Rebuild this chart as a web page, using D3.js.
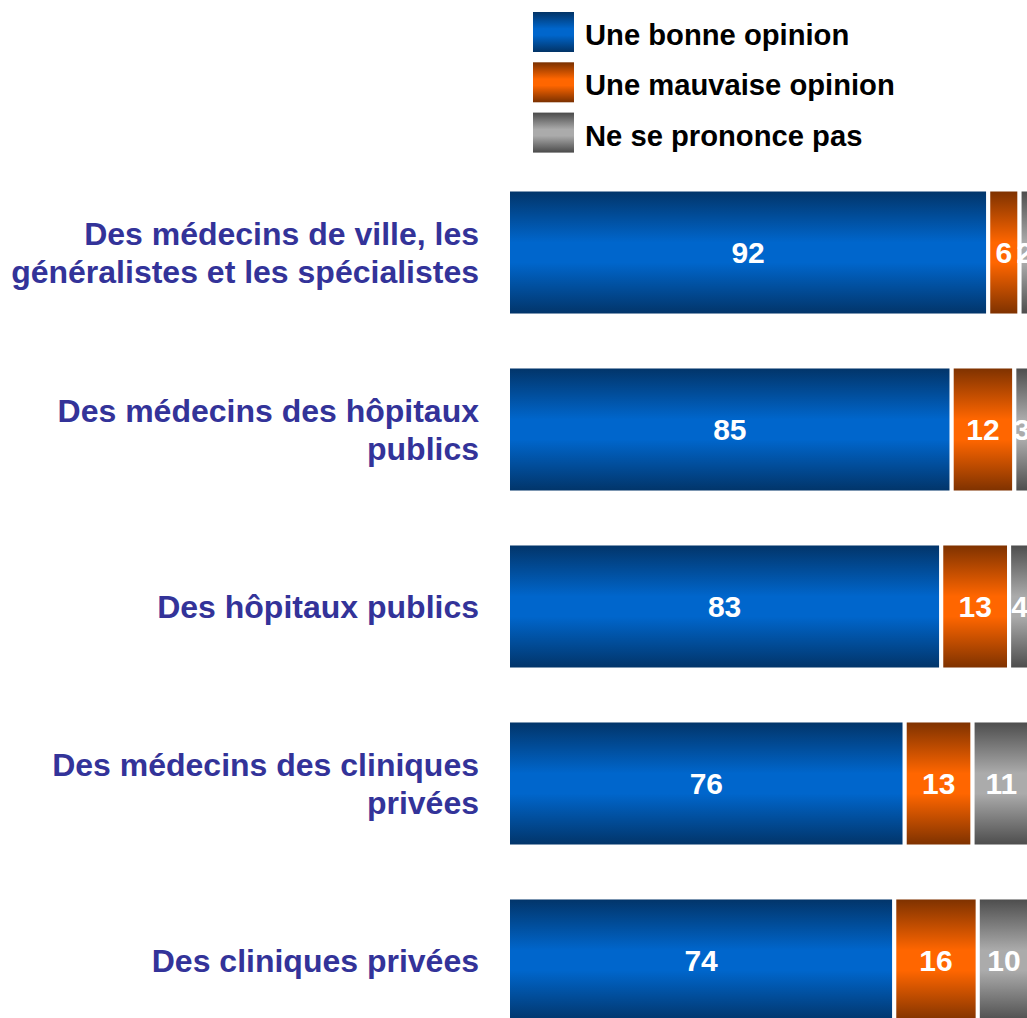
<!DOCTYPE html>
<html>
<head>
<meta charset="utf-8">
<script src="https://cdn.jsdelivr.net/npm/d3@7"></script>
<style>
  html, body { margin: 0; padding: 0; background: #ffffff; overflow: hidden; }
  svg { display: block; font-family: "Liberation Sans", Arial, sans-serif; }
</style>
</head>
<body>
<svg id="chart" width="1027" height="1018"></svg>
<script>
// Opinion of the French about health actors (%)
const categories = [
  ["Des médecins de ville, les", "généralistes et les spécialistes"],
  ["Des médecins des hôpitaux", "publics"],
  ["Des hôpitaux publics"],
  ["Des médecins des cliniques", "privées"],
  ["Des cliniques privées"]
];
const seriesNames = ["Une bonne opinion", "Une mauvaise opinion", "Ne se prononce pas"];
const bonne    = [92, 85, 83, 76, 74];
const mauvaise = [6, 12, 13, 13, 16];
const nsp      = [2, 3, 4, 11, 10];

// gradient stops per series: dark edge, bright middle
const gradColors = [
  ["#023366", "#0066cc"],
  ["#7a3000", "#ff6600"],
  ["#4a4a4a", "#ababab"]
];

const svg = d3.select("#chart");
const defs = svg.append("defs");
gradColors.forEach((c, i) => {
  const g = defs.append("linearGradient")
    .attr("id", "grad" + i)
    .attr("x1", 0).attr("y1", 0).attr("x2", 0).attr("y2", 1);
  g.append("stop").attr("offset", "0%").attr("stop-color", c[0]);
  g.append("stop").attr("offset", "42%").attr("stop-color", c[1]);
  g.append("stop").attr("offset", "58%").attr("stop-color", c[1]);
  g.append("stop").attr("offset", "100%").attr("stop-color", c[0]);
});

const keys = categories.map((_, i) => i);
const rows = keys.map(i => ({ idx: i, v: [bonne[i], mauvaise[i], nsp[i]] }));
const stack = d3.stack().keys([0, 1, 2]).value((d, k) => d.v[k]);
const stacked = stack(rows);

const x = d3.scaleLinear().domain([0, 100]).range([508, 1030]);
const y = d3.scaleBand().domain(keys).range([189.5, 1023.5]).paddingInner(0.288).paddingOuter(0);

// bars
const layers = svg.append("g").selectAll("g")
  .data(stacked).join("g")
  .attr("fill", d => `url(#grad${d.key})`);

layers.selectAll("rect")
  .data(d => d).join("rect")
  .attr("x", d => x(d[0]))
  .attr("y", d => y(d.data.idx))
  .attr("width", d => x(d[1]) - x(d[0]))
  .attr("height", y.bandwidth())
  .attr("stroke", "#ffffff")
  .attr("stroke-width", 4);

// values inside segments
const valueLayers = svg.append("g").selectAll("g").data(stacked).join("g");
valueLayers.selectAll("text")
  .data(d => d).join("text")
  .attr("x", d => (x(d[0]) + x(d[1])) / 2)
  .attr("y", d => y(d.data.idx) + y.bandwidth() / 2 + 10.7)
  .attr("text-anchor", "middle")
  .attr("fill", "#ffffff")
  .attr("font-weight", "bold")
  .attr("font-size", 30)
  .text(d => d[1] - d[0]);

// category labels
const lineH = 38;
const labels = svg.append("g").selectAll("text")
  .data(categories).join("text")
  .attr("text-anchor", "end")
  .attr("fill", "#333399")
  .attr("font-weight", "bold")
  .attr("font-size", 32)
  .attr("transform", (d, i) => {
    const cy = y(i) + y.bandwidth() / 2;
    const base = cy + 11.3 - (d.length - 1) * lineH / 2;
    return `translate(479,${base})`;
  });
labels.selectAll("tspan")
  .data(d => d).join("tspan")
  .attr("x", 0)
  .attr("dy", (d, j) => j === 0 ? 0 : lineH)
  .text(d => d);

// legend
const legend = svg.append("g").attr("transform", "translate(533,12)");
const lg = legend.selectAll("g").data(seriesNames).join("g")
  .attr("transform", (d, i) => `translate(0,${i * 50.3})`);
lg.append("rect")
  .attr("width", 41).attr("height", 40)
  .attr("fill", (d, i) => `url(#grad${i})`);
lg.append("text")
  .attr("x", 52).attr("y", 33)
  .attr("font-size", 29.2)
  .attr("font-weight", "bold")
  .attr("fill", "#000000")
  .text(d => d);
</script>
</body>
</html>
